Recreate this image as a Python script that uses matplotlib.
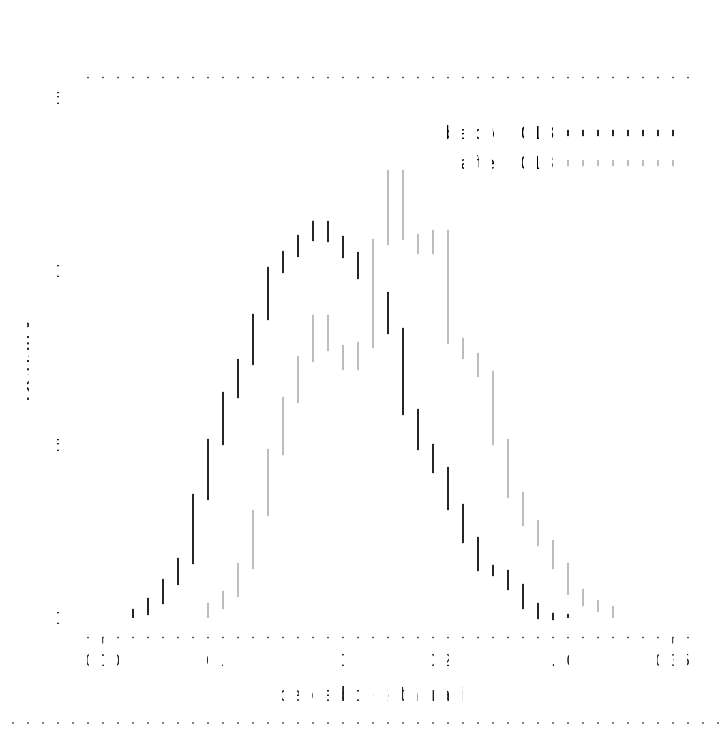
import numpy as np
import matplotlib
matplotlib.use('Agg')
import matplotlib.pyplot as plt
from matplotlib.patches import Rectangle
from matplotlib.lines import Line2D

# common histogram grid (38 bins between 0.10 and 0.35)
bins = np.linspace(0.10, 0.35, 39)

# density per bin; first_* is the index of the first bin edge used
before_first = 2
before_density = [0.17, 0.49, 1.04, 1.64, 3.48, 5.07, 6.42, 7.37, 8.67, 10.05,
                  10.51, 10.97, 11.37, 10.94, 10.48, 9.85, 9.33, 8.29, 5.93, 4.92,
                  4.26, 3.20, 2.25, 1.44, 1.30, 0.89, 0.35, 0.06, 0.02]
after_first = 7
after_density = [0.35, 0.69, 1.50, 3.02, 4.78, 6.28, 7.48, 8.66, 7.80, 7.25,
                 7.86, 10.85, 12.84, 11.00, 10.59, 11.11, 8.00, 7.57, 7.05, 5.07,
                 3.54, 2.73, 2.16, 1.50, 0.75, 0.43, 0.26]

labels = ['before 2018', 'after 2018']
colors = ['#262626', '#bdbdbd']
xticks = [0.10, 0.15, 0.20, 0.25, 0.30, 0.35]
yticks = [0, 5, 10, 15]

W, H = 724, 729
fig = plt.figure(figsize=(W / 100, H / 100), dpi=100)
ax = fig.add_axes([80 / W, 92 / H, 614 / W, 560 / H])

groups = [(before_first, before_density), (after_first, after_density)]
for (first, dens), c in zip(groups, colors):
    edges = bins[first:first + len(dens) + 1]
    ax.stairs(dens, edges, baseline=0, color=c, lw=4.5)

ax.set_xlim(0.090132, 0.359430)
ax.set_ylim(-0.548, 15.604)
ax.set_xticks(xticks, [f'{t:.2f}' for t in xticks])
ax.set_yticks(yticks)
ax.tick_params(length=4.5, width=1, pad=7.5, labelsize=11.5,
               color='#444444', labelcolor='#222222')
for s in ax.spines.values():
    s.set_color('#555555')
    s.set_linewidth(1)

ax.set_xlabel('accepted-to-total ratio', fontsize=14, color='#222222')
ax.xaxis.set_label_coords((366 - 80) / 614, -0.0875)
ax.set_ylabel('Density', fontsize=16, color='#222222')
ax.yaxis.set_label_coords((33.5 - 80) / 614, 0.5)

handles = [Line2D([], [], color=c, lw=4.5) for c in colors]
ax.legend(handles, labels, loc='upper right', bbox_to_anchor=(0.974, 0.914),
          frameon=False, markerfirst=False, handlelength=6.3, handletextpad=0.55,
          fontsize=13, labelspacing=0.65, borderpad=0, borderaxespad=0)

# thin rule along the bottom edge of the figure
fig.add_artist(Line2D([0, 1], [6.5 / H] * 2, transform=fig.transFigure,
                      color='#666666', lw=1.2, zorder=5))

# white comb over the whole figure: only a 2px column every 15px stays open
for k in range(-1, 48):
    left = 14 + 15 * k
    fig.add_artist(Rectangle((left / W, 0), 13 / W, 1, transform=fig.transFigure,
                             facecolor='white', edgecolor='none',
                             antialiased=False, zorder=10))

fig.savefig('out.png', dpi=100)
